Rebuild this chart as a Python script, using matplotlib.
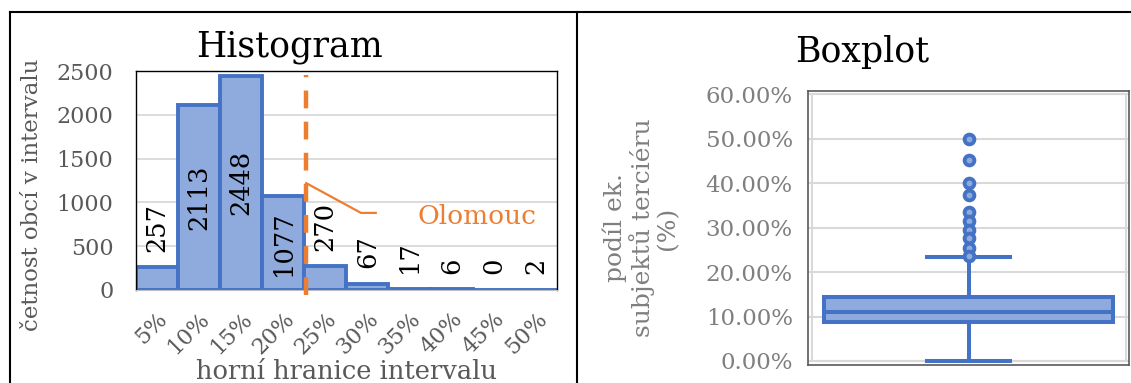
import matplotlib
matplotlib.use("Agg")
import matplotlib.pyplot as plt
from matplotlib.lines import Line2D
from matplotlib.patches import Rectangle
from matplotlib.ticker import FuncFormatter

plt.rcParams['font.family'] = ['DejaVu Serif']

# histogram data
bin_labels = ["5%", "10%", "15%", "20%", "25%", "30%", "35%", "40%", "45%", "50%"]
counts = [257, 2113, 2448, 1077, 270, 67, 17, 6, 0, 2]
bin_width = 0.05
olomouc_share = 0.2025

# boxplot data
box_q1 = 0.088
box_median = 0.111
box_q3 = 0.145
whisker_low = 0.0
whisker_high = 0.235
outliers = [0.499, 0.452, 0.401, 0.374, 0.336, 0.314, 0.295, 0.276, 0.255, 0.237]

blue = '#4472c4'
light_blue = '#8faadc'
orange = '#ed7d31'
grid_c = '#d9d9d9'

W, H = 1131, 383
fig = plt.figure(figsize=(W / 100, H / 100), dpi=100)


def fx(px):
    return px / W


def fy(py):
    return 1 - py / H


# frames around the two charts
fig.add_artist(Line2D([fx(10), fx(10)], [0, fy(12)], color='black', lw=1.5))
fig.add_artist(Line2D([fx(577), fx(577)], [0, fy(12)], color='black', lw=1.5))
fig.add_artist(Line2D([fx(10), 1], [fy(12), fy(12)], color='black', lw=1.5))

# ---- histogram ----
ax = fig.add_axes([fx(135.5), fy(290), fx(421.5), 219 / H])
x = list(range(len(counts)))
ax.bar(x, counts, width=1.0, color=light_blue, edgecolor=blue, linewidth=2.8, zorder=2)
ax.set_xlim(-0.5, len(counts) - 0.5)
ax.set_ylim(0, 2500)
ax.set_yticks([0, 500, 1000, 1500, 2000, 2500])
ax.yaxis.grid(True, color=grid_c, lw=1.3, zorder=0)
ax.set_axisbelow(True)
ax.tick_params(axis='y', length=0, pad=16, labelsize=16, labelcolor='#595959')
ax.set_xticks(x)
ax.set_xticklabels(bin_labels, rotation=45, ha='right', va='top',
                   rotation_mode='anchor')
ax.tick_params(axis='x', length=0, pad=13, labelsize=16, labelcolor='#595959')
for s in ['top', 'left', 'right']:
    ax.spines[s].set_color('black')
    ax.spines[s].set_linewidth(1.0)
ax.spines['bottom'].set_color('#bfbfbf')

for xi, v in zip(x, counts):
    if v >= 1000:
        ax.text(xi, v / 2, str(v), rotation=90, ha='center', va='center', fontsize=18.5)
    else:
        ax.text(xi, v + 180, str(v), rotation=90, ha='center', va='bottom', fontsize=18.5)

olomouc_x = olomouc_share / bin_width - 0.5
ax.plot([olomouc_x, olomouc_x], [-60, 2450], color=orange, lw=3.2,
        dashes=(4, 3), zorder=3, clip_on=False)
ax.plot([olomouc_x, olomouc_x + 1.3, olomouc_x + 1.65], [1220, 880, 880],
        color=orange, lw=1.6, zorder=3)
ax.text(olomouc_x + 4.05, 840, "Olomouc", color=orange, fontsize=19,
        ha='center', va='center')

fig.text(fx(290), fy(56.7), "Histogram", fontsize=25, ha='center', va='baseline')
fig.text(fx(32), fy(195), "četnost obcí v intervalu", rotation=90, fontsize=16.5,
         color='#595959', ha='center', va='center')
fig.text(fx(346.5), fy(379), "horní hranice intervalu", fontsize=18.5,
         color='#595959', ha='center', va='baseline')

# ---- boxplot ----
bx = fig.add_axes([fx(808), fy(365), fx(321), 274.3 / H])
stats = [dict(med=box_median, q1=box_q1, q3=box_q3, whislo=whisker_low,
              whishi=whisker_high, fliers=outliers)]
bx.bxp(stats, positions=[0], widths=0.9, capwidths=0.26, patch_artist=True,
       boxprops=dict(facecolor=light_blue, edgecolor=blue, linewidth=2.9),
       medianprops=dict(color=blue, linewidth=2.9),
       whiskerprops=dict(color=blue, linewidth=2.9),
       capprops=dict(color=blue, linewidth=2.9),
       flierprops=dict(marker='o', markersize=7, markerfacecolor=light_blue,
                       markeredgecolor=blue, markeredgewidth=2.8),
       zorder=3)
bx.set_xlim(-0.5, 0.5)
bx.set_ylim(-0.009, 0.608)
bx.set_yticks([0, 0.1, 0.2, 0.3, 0.4, 0.5, 0.6])
bx.yaxis.set_major_formatter(FuncFormatter(lambda v, p: f"{v * 100:.2f}%"))
bx.yaxis.grid(True, color=grid_c, lw=1.5, zorder=0)
bx.set_axisbelow(True)
bx.set_xticks([])
bx.tick_params(axis='y', length=0, pad=11, labelsize=16.5, labelcolor='#7f7f7f')
for s in bx.spines.values():
    s.set_color('#595959')
    s.set_linewidth(1.2)
bx.add_patch(Rectangle((0.011, 0.0), 0.979, 0.6, transform=bx.get_yaxis_transform(),
                       fill=False, edgecolor=grid_c, lw=1.5, zorder=1))

fig.text(fx(862), fy(61.7), "Boxplot", fontsize=25, ha='center', va='baseline')
fig.text(fx(641), fy(228), "podíl ek.\nsubjektů terciéru\n(%)", rotation=90,
         fontsize=18, color='#7f7f7f', ha='center', va='center',
         multialignment='center', linespacing=1.1)

fig.savefig("out.png", dpi=100)
